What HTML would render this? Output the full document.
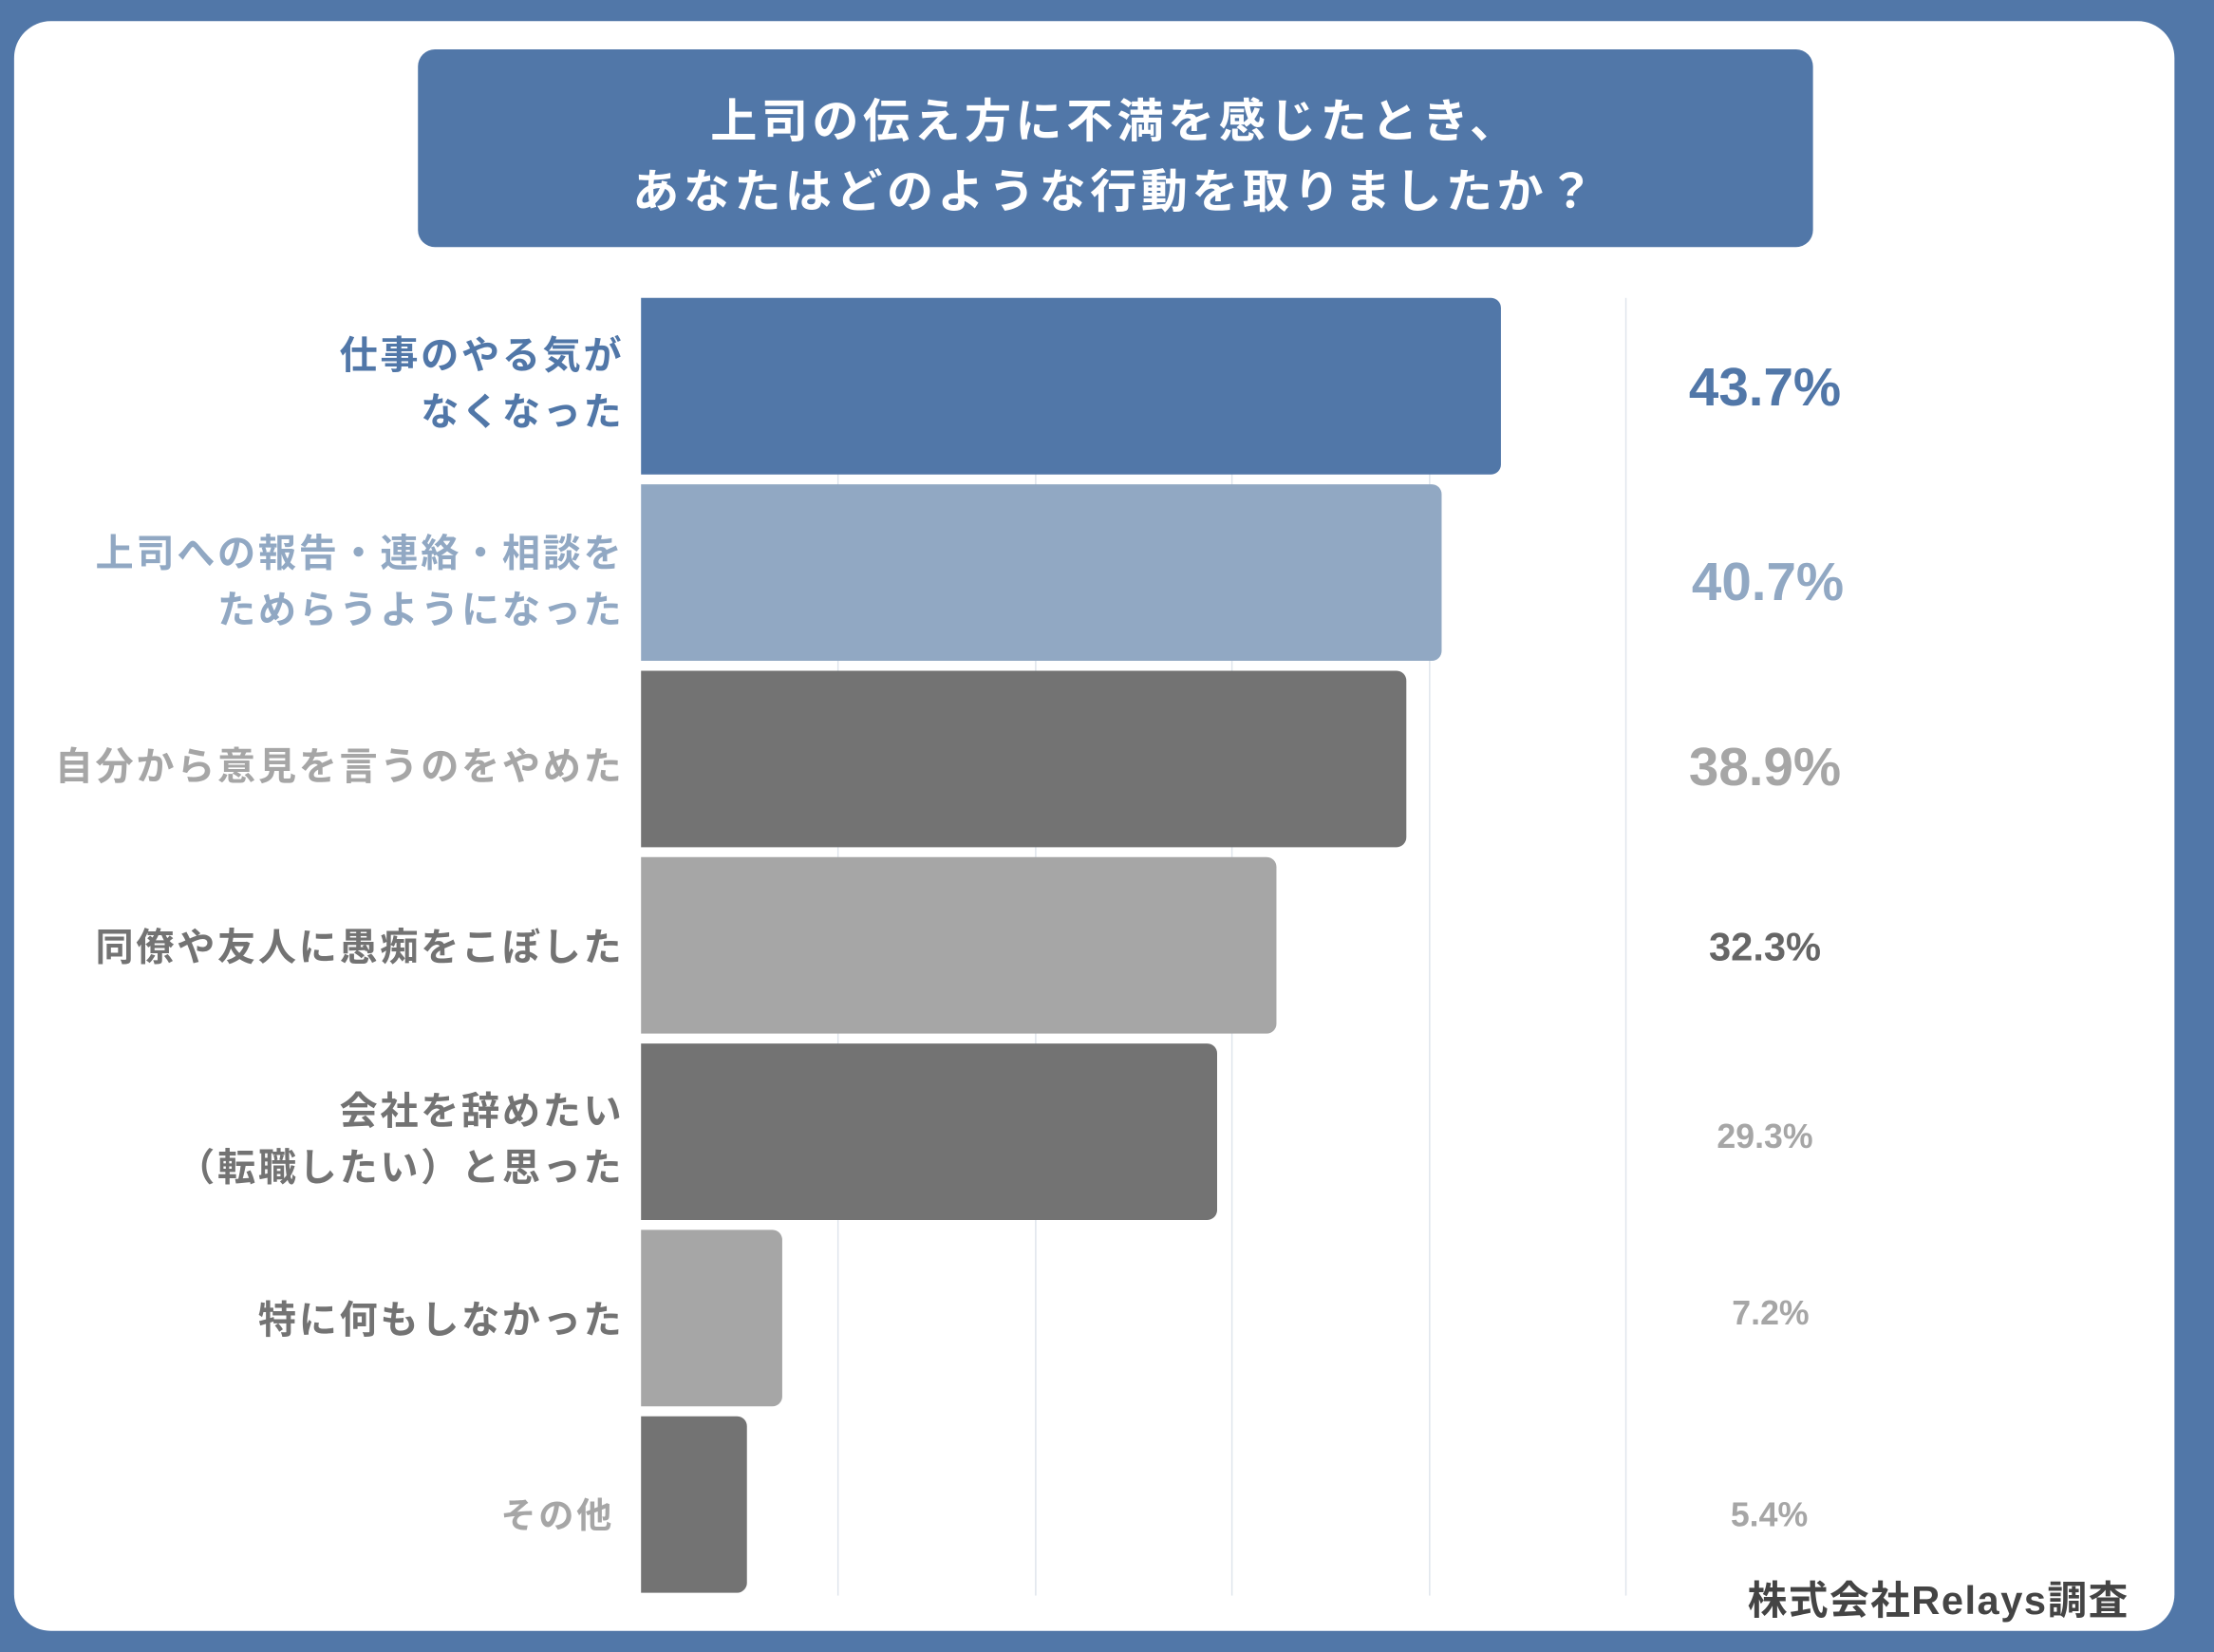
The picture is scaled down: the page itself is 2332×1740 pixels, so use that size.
<!DOCTYPE html>
<html><head><meta charset="utf-8"><style>
html,body{margin:0;padding:0;width:2332px;height:1740px;overflow:hidden;background:#5177a8;}
#w{position:absolute;left:0;top:0;width:1568px;height:1170px;transform:scale(1.48724);transform-origin:0 0;font-family:"Liberation Sans","Noto Sans CJK JP",sans-serif;font-weight:bold;}
.card{position:absolute;left:10px;top:15px;width:1530px;height:1140px;background:#fff;border-radius:26px;}
.title{position:absolute;left:296px;top:35px;width:988px;height:140px;background:#5177a8;border-radius:12px;color:#fff;font-size:33px;letter-spacing:3px;text-align:center;line-height:50px;padding-top:26px;box-sizing:border-box;}
.g{position:absolute;top:211px;height:919px;width:1px;background:#dfe5ec;}
.bar{position:absolute;left:454px;height:125px;border-radius:0 7px 7px 0;}
.lb{position:absolute;right:1126px;text-align:right;font-size:27px;letter-spacing:1.8px;line-height:40px;white-space:nowrap;}
.v{position:absolute;left:1150px;width:200px;text-align:center;white-space:nowrap;}
</style></head><body><div id="w">
<div class="card"></div>
<div class="title">上司の伝え方に不満を感じたとき、<br>あなたはどのような行動を取りましたか？</div>
<div class="g" style="left:593px"></div><div class="g" style="left:733px"></div><div class="g" style="left:872px"></div><div class="g" style="left:1012px"></div><div class="g" style="left:1151px"></div>
<div class="bar" style="top:211px;width:609px;background:#5177a8"></div>
<div class="bar" style="top:343px;width:567px;background:#91a8c3"></div>
<div class="bar" style="top:475px;width:542px;background:#737373"></div>
<div class="bar" style="top:607px;width:450px;background:#a6a6a6"></div>
<div class="bar" style="top:739px;width:408px;background:#737373"></div>
<div class="bar" style="top:871px;width:100px;background:#a6a6a6"></div>
<div class="bar" style="top:1003px;width:75px;background:#737373"></div>
<div class="lb" style="top:232px;color:#5177a8">仕事のやる気が<br>なくなった</div>
<div class="lb" style="top:372px;color:#91a8c3">上司への報告・連絡・相談を<br>ためらうようになった</div>
<div class="lb" style="top:523px;color:#a6a6a6">自分から意見を言うのをやめた</div>
<div class="lb" style="top:651px;color:#737373">同僚や友人に愚痴をこぼした</div>
<div class="lb" style="top:767px;color:#737373">会社を辞めたい<br>（転職したい）と思った</div>
<div class="lb" style="top:915px;color:#737373">特に何もしなかった</div>
<div class="lb" style="top:1054px;color:#a6a6a6;right:1133px;font-size:25px">その他</div>
<div class="v" style="top:254px;font-size:38px;color:#5177a8">43.7%</div>
<div class="v" style="top:392px;font-size:38px;color:#91a8c3;left:1152px">40.7%</div>
<div class="v" style="top:523px;font-size:38px;color:#a6a6a6">38.9%</div>
<div class="v" style="top:655px;font-size:28px;color:#666">32.3%</div>
<div class="v" style="top:792px;font-size:24px;color:#a6a6a6">29.3%</div>
<div class="v" style="top:917px;font-size:24px;color:#a6a6a6;left:1154px">7.2%</div>
<div class="v" style="top:1060px;font-size:24px;color:#a6a6a6;left:1153px">5.4%</div>
<div style="position:absolute;right:60px;top:1112px;font-size:28px;letter-spacing:1px;color:#444">株式会社Relays調査</div>
</div></body></html>
